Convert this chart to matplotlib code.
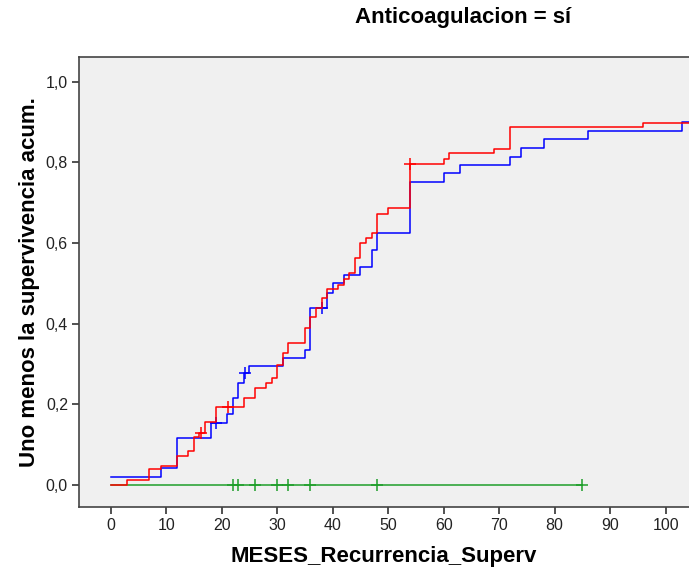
import matplotlib.pyplot as plt
import numpy as np

plt.rcParams['font.family'] = ['Liberation Sans', 'DejaVu Sans']

# Data
red_t = [0, 3, 7, 9, 12, 14, 15, 16, 17, 19, 24, 26, 28, 29, 30, 31, 32, 35, 36, 37, 38, 39,
         41, 42, 43, 44, 45, 46, 47, 48, 50, 54, 60, 61, 69, 72, 96, 105]
red_v = [0, 0.012, 0.039, 0.047, 0.073, 0.084, 0.118, 0.128, 0.157, 0.193, 0.215, 0.241, 0.252,
         0.265, 0.298, 0.327, 0.351, 0.39, 0.417, 0.438, 0.463, 0.486, 0.496, 0.512, 0.525, 0.562,
         0.599, 0.612, 0.624, 0.672, 0.686, 0.797, 0.808, 0.822, 0.833, 0.887, 0.898, 0.898]
red_cens_t = [16.3, 21.2, 54]

blue_t = [0, 9, 12, 18, 21, 22, 23, 24, 25, 31, 35, 36, 39, 40, 42, 45, 47, 48, 54, 60, 63,
          72, 74, 78, 86, 103, 105]
blue_v = [0.021, 0.043, 0.116, 0.155, 0.176, 0.215, 0.254, 0.277, 0.295, 0.314, 0.335, 0.438,
          0.475, 0.50, 0.521, 0.541, 0.583, 0.626, 0.752, 0.773, 0.793, 0.814, 0.835, 0.857,
          0.878, 0.899, 0.899]
blue_cens_t = [19, 24.2, 38]

green_t = [0, 85]
green_v = [0, 0]
green_cens_t = [22, 23, 26, 30, 32, 36, 48, 85]

yticks = [0, 0.2, 0.4, 0.6, 0.8, 1.0]
ytick_labels = ['0,0', '0,2', '0,4', '0,6', '0,8', '1,0']
xticks = list(range(0, 101, 10))


def level_at(ts, vs, t):
    idx = np.searchsorted(ts, t, side='right') - 1
    return vs[idx]


fig = plt.figure(figsize=(6.89, 5.76), dpi=100)
ax = fig.add_axes([79 / 689, 1 - 507 / 576, 1 - 79 / 689, (507 - 56.7) / 576])
ax.set_facecolor('#f0f0f0')

series = [
    (green_t, green_v, green_cens_t, '#1e9e2a'),
    (blue_t, blue_v, blue_cens_t, '#0000ff'),
    (red_t, red_v, red_cens_t, '#ff0000'),
]
for ts, vs, cens, col in series:
    ax.step(ts, vs, where='post', color=col, lw=1.1)
    cv = [level_at(ts, vs, c) for c in cens]
    ax.plot(cens, cv, linestyle='none', marker='+', markersize=8, mew=1.1, color=col)

ax.set_xlim(-5.7, 104.2)
ax.set_ylim(-0.0545, 1.062)
ax.set_xticks(xticks)
ax.set_xticklabels([str(x) for x in xticks], fontsize=11.5, color='#222222')
ax.set_yticks(yticks)
ax.set_yticklabels(ytick_labels, fontsize=11.5, color='#222222')
ax.tick_params(direction='out', length=5, width=1.2, color='#333333', pad=3)

for s in ['left', 'top', 'bottom']:
    ax.spines[s].set_color('#444444')
    ax.spines[s].set_linewidth(1.2)
ax.spines['right'].set_visible(False)

ax.set_xlabel('MESES_Recurrencia_Superv', fontsize=16, fontweight='bold', labelpad=9)
ax.set_ylabel('Uno menos la supervivencia acum.', fontsize=16, fontweight='bold', labelpad=4)
fig.text(463 / 689, 1 - 18 / 576, 'Anticoagulacion = sí', fontsize=16, fontweight='bold',
         ha='center', va='center')

plt.savefig('out.png', dpi=100)
plt.close()
